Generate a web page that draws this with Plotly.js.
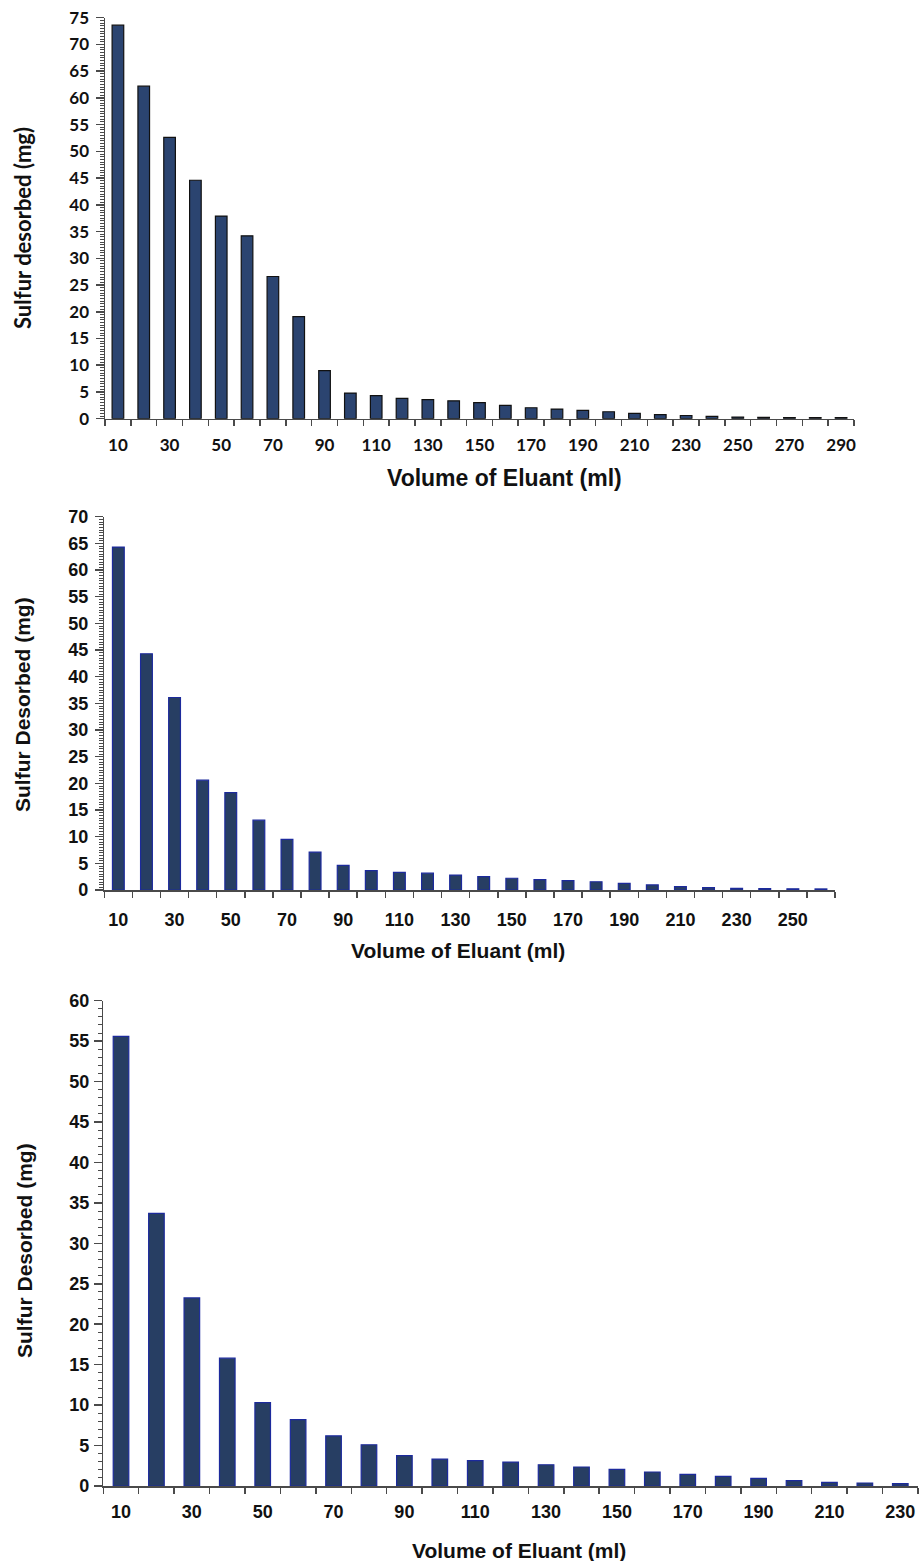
<!DOCTYPE html>
<html>
<head>
<meta charset="utf-8">
<script src="https://cdn.plot.ly/plotly-3.0.1.min.js"></script>
<style>
html,body{margin:0;padding:0;background:#fff;}
#chart{width:919px;height:1561px;}
</style>
</head>
<body>
<div id="chart"></div>
<script>
// ---- Data ----
const volumeA = [10,20,30,40,50,60,70,80,90,100,110,120,130,140,150,160,170,180,190,200,210,220,230,240,250,260,270,280,290];
const sulfurA = [73.6,62.2,52.6,44.6,37.9,34.2,26.6,19.1,9.0,4.8,4.3,3.8,3.55,3.35,3.0,2.5,2.05,1.8,1.55,1.3,1.0,0.75,0.6,0.45,0.3,0.25,0.22,0.2,0.2];
const labelsA = [10,30,50,70,90,110,130,150,170,190,210,230,250,270,290];

const volumeB = [10,20,30,40,50,60,70,80,90,100,110,120,130,140,150,160,170,180,190,200,210,220,230,240,250,260];
const sulfurB = [64.3,44.3,36.1,20.6,18.25,13.1,9.5,7.1,4.6,3.65,3.3,3.15,2.8,2.5,2.2,1.95,1.75,1.55,1.25,0.95,0.65,0.45,0.3,0.25,0.22,0.2];
const labelsB = [10,30,50,70,90,110,130,150,170,190,210,230,250];

const volumeC = [10,20,30,40,50,60,70,80,90,100,110,120,130,140,150,160,170,180,190,200,210,220,230];
const sulfurC = [55.6,33.7,23.25,15.8,10.3,8.2,6.2,5.1,3.75,3.33,3.13,2.96,2.63,2.35,2.06,1.73,1.44,1.19,0.95,0.66,0.45,0.37,0.29];
const labelsC = [10,30,50,70,90,110,130,150,170,190,210,230];

const xTitle = 'Volume of Eluant (ml)';
const yTitleA = 'Sulfur desorbed (mg)';
const yTitleB = 'Sulfur Desorbed (mg)';
const yTitleC = 'Sulfur Desorbed (mg)';

// ---- Styles ----
const W = 919, H = 1561;
const axisCol = '#4a4a4a';
const lato = (s) => ({family: 'Lato, "Open Sans", sans-serif', size: s, color: '#111', weight: 700});
const arialB = (s) => ({family: '"Liberation Sans", Arial, sans-serif', size: s, color: '#111', weight: 700});

function px(x){return x / W;}
function py(y){return 1 - y / H;}

const traces = [
  {type:'bar', x: volumeA, y: sulfurA, xaxis:'x', yaxis:'y', width: 4.5,
   marker:{color:'#2b4470', line:{color:'#111', width:1.2}}, hoverinfo:'x+y'},
  {type:'bar', x: volumeB, y: sulfurB, xaxis:'x2', yaxis:'y2', width: 4.2,
   marker:{color:'#273e63', line:{color:'#1c2a9c', width:1.2}}, hoverinfo:'x+y'},
  {type:'bar', x: volumeC, y: sulfurC, xaxis:'x3', yaxis:'y3', width: 4.4,
   marker:{color:'#273e63', line:{color:'#1c2a9c', width:1.2}}, hoverinfo:'x+y'}
];

function xAxis(domain, range, labels, anchor, tickFont, lblOff){
  return {
    domain: domain, range: range, anchor: anchor,
    tickmode: 'array', tickvals: labels, ticktext: labels.map(String),
    ticks: 'outside', ticklen: 6, tickcolor: 'rgba(0,0,0,0)',
    ticklabelstandoff: lblOff,
    minor: {tick0: 5, dtick: 10, ticks: 'outside', ticklen: 6, tickwidth: 1.5, tickcolor: axisCol},
    showline: true, linecolor: axisCol, linewidth: 1.5,
    showgrid: false, zeroline: false, fixedrange: true,
    tickfont: tickFont
  };
}
function yAxis(domain, range, minorD, anchor, tickFont, lblOff){
  return {
    domain: domain, range: range, anchor: anchor,
    tick0: 0, dtick: 5,
    ticks: 'outside', ticklen: 8, tickwidth: 1.5, tickcolor: axisCol,
    ticklabelstandoff: lblOff,
    minor: {dtick: minorD, ticks: 'outside', ticklen: 4, tickwidth: 1, tickcolor: axisCol},
    showline: true, linecolor: axisCol, linewidth: 1.5,
    showgrid: false, zeroline: false, fixedrange: true,
    tickfont: tickFont
  };
}

function xTitleAnn(text, cx, cy, font){
  return {text: text, xref:'paper', yref:'paper', x: px(cx), y: py(cy),
          xanchor:'center', yanchor:'middle', showarrow:false, font: font};
}
function yTitleAnn(text, cx, cy, font){
  return {text: text, xref:'paper', yref:'paper', x: px(cx), y: py(cy),
          xanchor:'center', yanchor:'middle', showarrow:false, textangle:-90, font: font};
}

const layout = {
  width: W, height: H,
  margin: {l:0, r:0, t:0, b:0},
  paper_bgcolor: '#fff', plot_bgcolor: '#fff',
  showlegend: false,
  xaxis:  xAxis([px(105), px(854)], [5, 295], labelsA, 'y',  lato(17), 4),
  yaxis:  yAxis([py(418.7), py(17.7)], [0, 75], 0.5, 'x', lato(17), 3),
  xaxis2: xAxis([px(104.3), px(835)], [5, 265], labelsB, 'y2', arialB(18), 7),
  yaxis2: yAxis([py(890), py(516.7)], [0, 70], 0.5, 'x2', arialB(18), 3),
  xaxis3: xAxis([px(103.3), px(918)], [5, 235], labelsC, 'y3', arialB(18), 3),
  yaxis3: yAxis([py(1486), py(1000.7)], [0, 60], 1, 'x3', arialB(18), 1),
  annotations: [
    xTitleAnn(xTitle, 504, 478, arialB(23)),
    yTitleAnn(yTitleA, 22, 228, lato(22)),
    xTitleAnn(xTitle, 458, 950, arialB(21)),
    yTitleAnn(yTitleB, 22, 705, arialB(21)),
    xTitleAnn(xTitle, 519, 1550, arialB(21)),
    yTitleAnn(yTitleC, 24, 1251, arialB(21))
  ]
};

Plotly.newPlot('chart', traces, layout, {displayModeBar: false, staticPlot: true});
</script>
</body>
</html>
